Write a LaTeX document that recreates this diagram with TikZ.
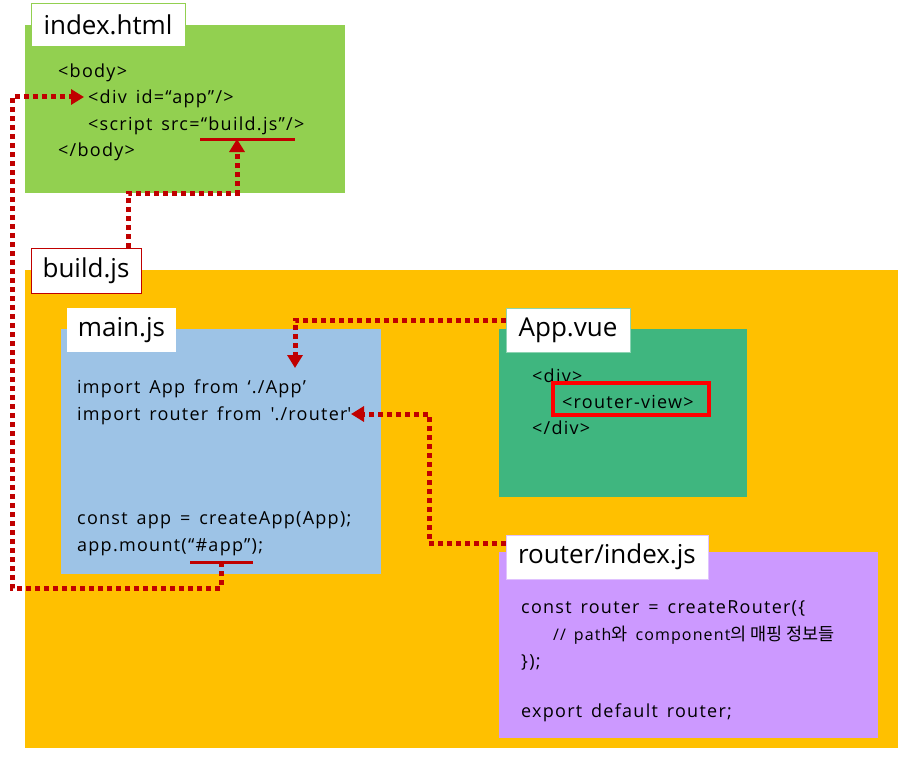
\documentclass[tikz,border=0pt]{standalone}
\usepackage{fontspec}
\setmainfont{Open Sans}
\newfontfamily\codefont{Open Sans}[LetterSpace=7, WordSpace=1.5]
\newfontfamily\kr{Noto Sans CJK KR}
\usetikzlibrary{arrows.meta,calc}
\definecolor{cgreen}{HTML}{92D050}
\definecolor{corange}{HTML}{FFC000}
\definecolor{cblue}{HTML}{9DC3E6}
\definecolor{cvue}{HTML}{3FB67F}
\definecolor{cpurple}{HTML}{CC99FF}
\definecolor{cdark}{HTML}{C00000}
\definecolor{cbright}{HTML}{FF0000}
\begin{document}
\begin{tikzpicture}[x=1pt,y=-1pt,
  box/.style={rectangle, inner sep=0pt, outer sep=0pt, anchor=north west},
  lbl/.style={rectangle, fill=white, inner sep=0pt, outer sep=0pt, anchor=north west,
    font=\fontsize{26}{30}\selectfont, line width=0.8pt},
  code/.style={anchor=base west, inner sep=0pt, font=\codefont\fontsize{18}{21}\selectfont},
  small/.style={anchor=base west, inner sep=0pt, font=\codefont\fontsize{16}{18}\selectfont},
  kor/.style={},
  conn/.style={draw=cdark, line width=5pt, dash pattern=on 5pt off 4pt},
  tip/.style={-{Triangle[length=13pt,width=15pt]}},
  uline/.style={draw=cdark, line width=3pt}]
\useasboundingbox (0,0) rectangle (904,757);

% boxes
\node[box, fill=cgreen, minimum width=320pt, minimum height=168pt] (html) at (25,25) {};
\node[box, fill=corange, minimum width=873pt, minimum height=478pt] (build) at (25,270) {};
\node[box, fill=cblue, minimum width=320pt, minimum height=245pt] (main) at (61,329) {};
\node[box, fill=cvue, minimum width=248pt, minimum height=168pt] (app) at (499,329) {};
\node[box, fill=cpurple, minimum width=379pt, minimum height=186pt] (router) at (499,552) {};

% index.html content
\node[code] (l1) at (58,78) {<body>};
\node[code] (l2) at (88,104) {<div id=“app”/>};
\node[code] (l3) at (88,130) {<script src=“build.js”/>};
\node[code] (l4) at (58,156) {</body>};

% main.js content
\node[code] (m1) at (77,393) {import App from ‘./App’};
\node[code] (m2) at (77,420) {import router from \textquotesingle./router\textquotesingle};
\node[code] (m3) at (77,524) {const app = createApp(App);};
\node[code] (m4) at (77,551) {app.mount(“\#app”);};

% App.vue content
\node[code] (a1) at (532,382) {<div>};
\node[code] (a2) at (562,408) {<router-view>};
\node[code] (a3) at (532,434) {</div>};
\node[box, draw=cbright, line width=4pt, minimum width=156pt, minimum height=32pt] (rv) at (553,383) {};

% router content
\node[code] (r1) at (521,613) {const router = createRouter(\{};
\node[small] (r2) at (553,640) {// path{\kr\fontsize{17.5}{18}\selectfont 와} component{\kr\fontsize{17.5}{18}\selectfont 의 매핑 정보들}};
\node[code] (r3) at (521,667) {\});};
\node[code] (r4) at (521,717) {export default router;};

% underlines
\coordinate (u1a) at (200,139); \coordinate (u1b) at (295,139);
\coordinate (u2a) at (190,562); \coordinate (u2b) at (253,562);
\draw[uline] (u1a) -- (u1b);
\draw[uline] (u2a) -- (u2b);

% connector coordinates
\coordinate (bjsTip) at (237,139);
\coordinate (c1s) at (128,248);
\coordinate (appS) at (221,562);
\coordinate (lft) at (12,588);
\coordinate (divTip) at (84,97);
\coordinate (c3s) at (506,320);
\coordinate (impTip) at (295,368);
\coordinate (c4s) at (506,543);
\coordinate (c4b) at (429,414);
\coordinate (rtTip) at (351,414);

% connectors
\draw[conn, tip] (c1s) |- (bjsTip |- html.south) -- (bjsTip);
\draw[conn, tip] (appS) |- (lft) |- (divTip);
\draw[conn, tip] (c3s) -| (impTip);
\draw[conn, tip] (c4s) -| (c4b) -- (rtTip);

% labels
\node[lbl, draw=cgreen, minimum width=154pt, minimum height=43pt] (htmllbl) at (31,3) {index.html};
\node[lbl, draw=cdark, minimum width=110pt, minimum height=45pt] (buildlbl) at (31,248) {build.js};
\node[lbl, minimum width=109pt, minimum height=44pt] (mainlbl) at (67,308) {main.js};
\node[lbl, draw=cvue!60, minimum width=124pt, minimum height=44pt] (applbl) at (506,308) {App.vue};
\node[lbl, draw=cpurple!60, minimum width=202pt, minimum height=44pt] (routerlbl) at (506,535) {router/index.js};
\end{tikzpicture}
\end{document}
